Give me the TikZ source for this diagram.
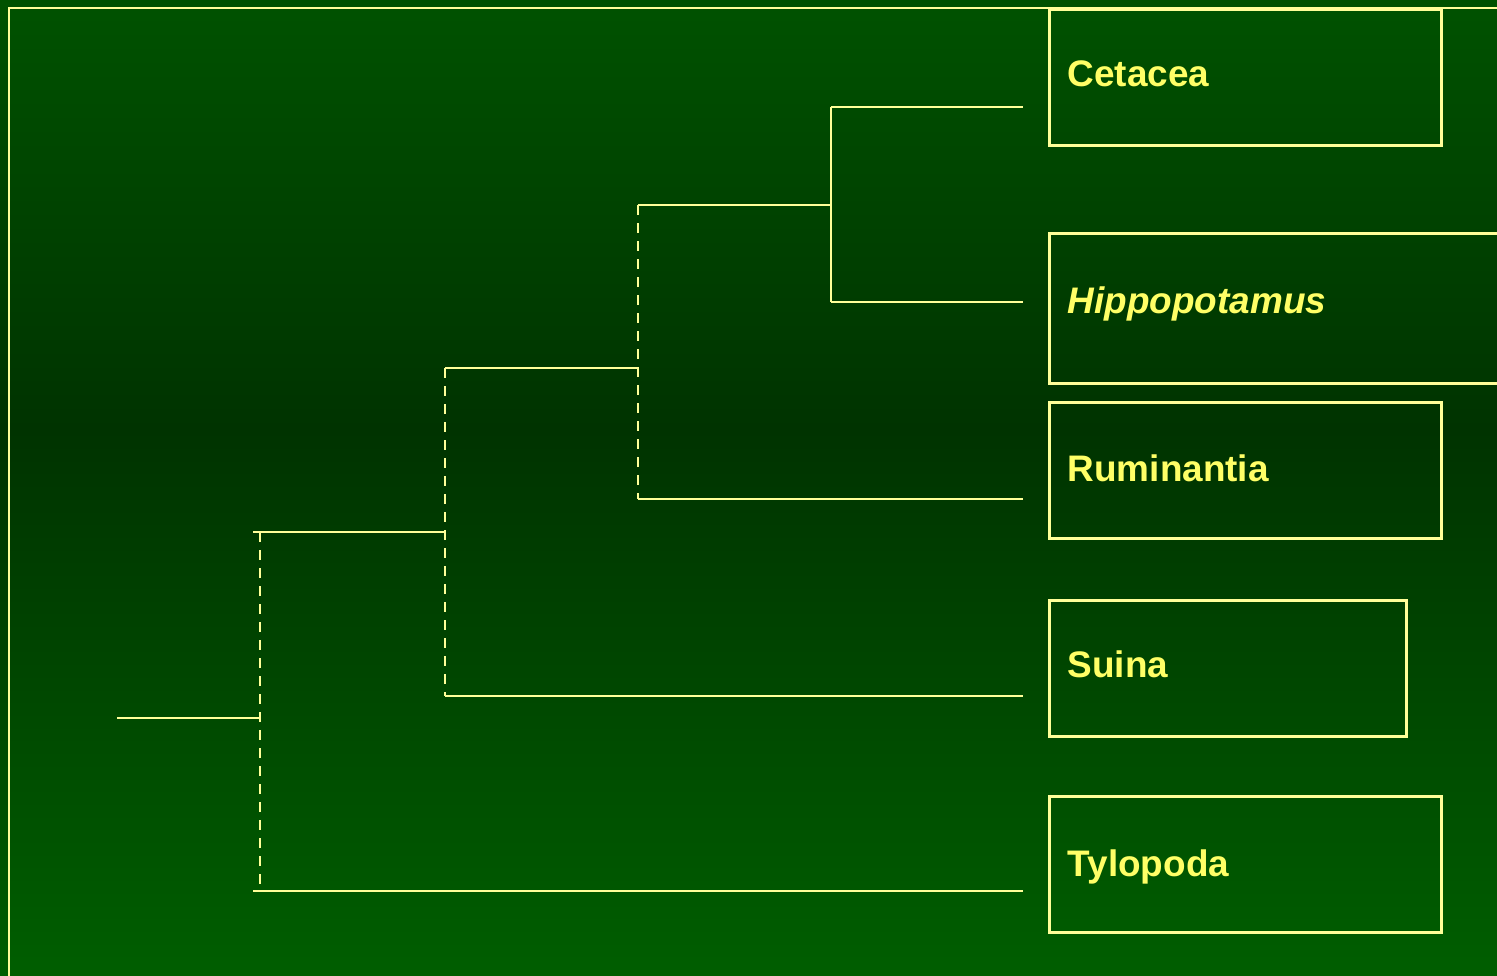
\documentclass[tikz,border=0pt]{standalone}
\usepackage{fontspec}
\setmainfont{Liberation Sans}
\definecolor{lineyel}{HTML}{FFFF99}
\definecolor{textyel}{HTML}{FFFF66}
\definecolor{gtop}{HTML}{005200}
\definecolor{gmid}{HTML}{003300}
\definecolor{gbot}{HTML}{005E00}
\pgfdeclareverticalshading{bgshade}{100bp}{color(0bp)=(gbot); color(25bp)=(gbot); color(53bp)=(gmid); color(75bp)=(gtop); color(100bp)=(gtop)}
\tikzset{
  tline/.style={draw=lineyel, line width=0.75pt},
  dline/.style={draw=lineyel, line width=0.75pt, dash pattern=on 0.1cm off 0.08cm},
  taxbox/.style={draw=lineyel, line width=0.75pt, rectangle, inner sep=0pt},
  taxtext/.style={text=textyel, font=\fontsize{10.5}{12.6}\selectfont\bfseries, anchor=base west, inner sep=0pt},
}
\begin{document}
\begin{tikzpicture}[x=0.01cm, y=-0.01cm]
\useasboundingbox (0,0) rectangle (1497,976);
\clip (0,0) rectangle (1497,976);
\shade[shading=bgshade] (0,0) rectangle (1497,976);
% outer frame
\draw[tline, line width=0.85pt] (9,976) -- (9,8) -- (1497,8);
% taxon boxes
\node[taxbox, minimum width=3.92cm, minimum height=1.36cm, anchor=north west] (cet) at (1048,8) {};
\node[taxbox, minimum width=5.00cm, minimum height=1.50cm, anchor=north west] (hip) at (1048,232) {};
\node[taxbox, minimum width=3.92cm, minimum height=1.36cm, anchor=north west] (rum) at (1048,401) {};
\node[taxbox, minimum width=3.57cm, minimum height=1.36cm, anchor=north west] (sui) at (1048,599) {};
\node[taxbox, minimum width=3.92cm, minimum height=1.36cm, anchor=north west] (tyl) at (1048,795) {};
% labels
\node[taxtext] (tcet) at (1067,87) {Cetacea};
\node[taxtext] (thip) at (1067,313) {\itshape Hippopotamus};
\node[taxtext] (trum) at (1067,481) {Ruminantia};
\node[taxtext] (tsui) at (1067,677) {Suina};
\node[taxtext] (ttyl) at (1067,876) {Tylopoda};
% tree coordinates
\coordinate (root) at (117,718);
\coordinate (n1) at (260,718);
\coordinate (n1t) at (260,532);
\coordinate (n1b) at (260,891);
\coordinate (n1ts) at (253,532);
\coordinate (n1bs) at (253,891);
\coordinate (n2) at (445,532);
\coordinate (n2t) at (445,368);
\coordinate (n2b) at (445,696);
\coordinate (n3) at (638,368);
\coordinate (n3t) at (638,205);
\coordinate (n3b) at (638,499);
\coordinate (n4) at (831,205);
\coordinate (n4t) at (831,107);
\coordinate (n4b) at (831,302);
\coordinate (ecet) at (1023,107);
\coordinate (ehip) at (1023,302);
\coordinate (erum) at (1023,499);
\coordinate (esui) at (1023,696);
\coordinate (etyl) at (1023,891);
% connectors
\draw[tline] (root) -- (n1);
\draw[dline] (n1t) -- (n1b);
\draw[tline] (n1ts) -- (n2);
\draw[tline] (n1bs) -- (etyl);
\draw[dline] (n2t) -- (n2b);
\draw[tline] (n2t) -- (n3);
\draw[tline] (n2b) -- (esui);
\draw[dline] (n3t) -- (n3b);
\draw[tline] (n3t) -- (n4);
\draw[tline] (n3b) -- (erum);
\draw[tline] (n4t) -- (n4b);
\draw[tline] (n4t) -- (ecet);
\draw[tline] (n4b) -- (ehip);
\end{tikzpicture}
\end{document}
